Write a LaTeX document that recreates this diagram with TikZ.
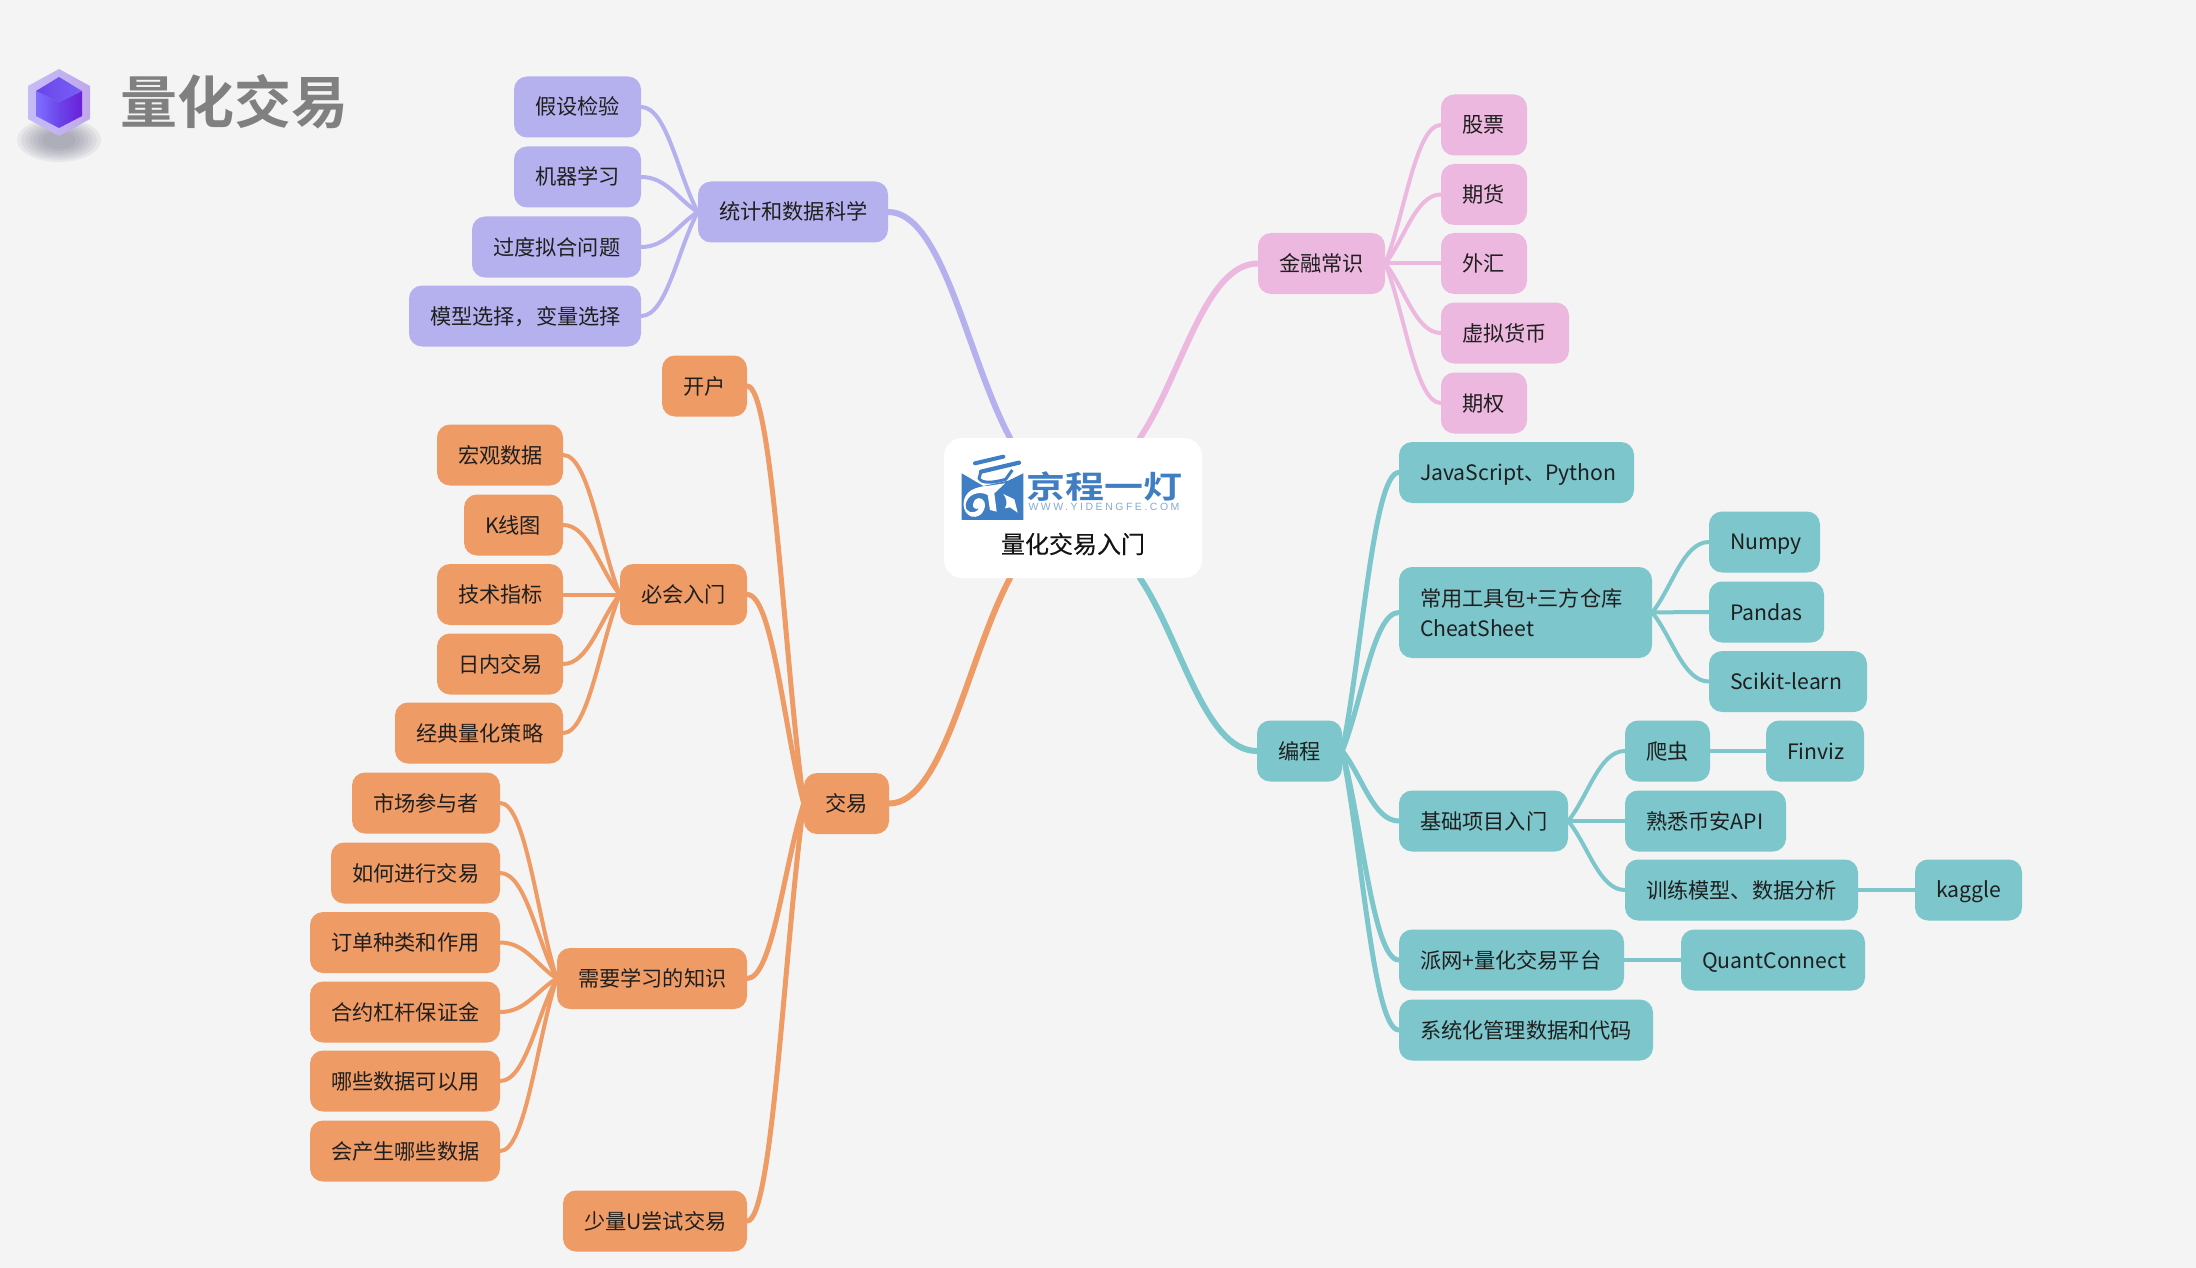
\documentclass[tikz,border=0pt]{standalone}
\usepackage{fontspec}
\setmainfont{Noto Sans CJK SC}
\newfontfamily\cjkb{Noto Sans CJK SC}[FakeBold=0.3]
\newfontfamily\cjkB{Noto Sans CJK SC Bold}
\newfontfamily\lgl{Liberation Sans}[LetterSpace=24]
\usetikzlibrary{backgrounds,calc}
\definecolor{bg}{HTML}{F4F4F4}
\definecolor{pur}{HTML}{B5B1EE}
\definecolor{pnk}{HTML}{EDB8DF}
\definecolor{tea}{HTML}{7CC6CC}
\definecolor{org}{HTML}{EE9B65}
\definecolor{lblue}{HTML}{3F7EC3}
\definecolor{hexa}{HTML}{C6BCF6}
\definecolor{hexb}{HTML}{BFA8EC}
\definecolor{cua}{HTML}{7E70FF}
\definecolor{cub}{HTML}{6B45EA}
\definecolor{cuc}{HTML}{6A1FD8}
\definecolor{shd}{HTML}{6A6A85}
\tikzset{x=1pt,y=-1pt,
  box/.style={rounded corners=13pt,minimum height=61pt,inner ysep=0pt,inner xsep=0pt,align=left,text=black!88,font=\fontsize{21.2}{30}\selectfont},
  bpur/.style={box,fill=pur},bpnk/.style={box,fill=pnk},btea/.style={box,fill=tea},borg/.style={box,fill=org},
  l1/.style={line width=6pt,line cap=round},
  l2/.style={line width=5pt,line cap=round},
  l3/.style={line width=4pt,line cap=round}}
\newcommand{\bx}[6]{\node[#5,minimum width={(#3-(#2))*1pt},text width={(#3-(#2)-42)*1pt}] (#1) at ({(#2+#3)/2},#4) {\rule[-4pt]{0pt}{24pt}#6};}
\newcommand{\lk}[3]{\draw[#1] let \p1=(#2),\p2=(#3) in (\p1) .. controls ({\x1+.35*(\x2-\x1)},{\y1+.35*(\y2-\y1)}) and ({\x1+.55*(\x2-\x1)},\y2) .. (\p2);}
\begin{document}
\begin{tikzpicture}
\useasboundingbox (0,0) rectangle (2196,1268);
\begin{scope}[on background layer]
\fill[bg] (0,0) rectangle (2196,1268);
\end{scope}
% centre
\node[fill=white,rounded corners=18pt,minimum width=258pt,minimum height=140pt,inner sep=0pt] (ctr) at (1073,508) {};
\node[font=\cjkb\fontsize{24}{28}\selectfont,text=black!92,inner sep=0pt] (ctrt) at (1073,544) {量化交易入门};
% logo
\begin{scope}[shift={(955,450)},x=0.3333pt,y=-0.3333pt]
\fill[lblue] (20,70) -- (85,108) -- (160,92) -- (205,70) -- (205,210) -- (20,210) -- cycle;
\draw[lblue,line width=4pt,line cap=round] (60,40) -- (145,20);
\draw[lblue,line width=4.2pt,line cap=round] (78,65) -- (192,38);
\draw[lblue,line width=3pt,line join=round] (78,65) -- (72,85) .. controls (80,100) and (110,100) .. (152,88) -- (172,60);
\fill[white] (95,108) -- (150,100) -- (118,130) -- (125,185) -- (105,180) -- (98,135) .. controls (70,120) and (35,135) .. (32,165) .. controls (30,190) and (60,195) .. (72,175) .. controls (60,180) and (50,172) .. (55,160) .. controls (60,140) and (80,140) .. (88,155) .. controls (95,175) and (80,205) .. (50,200) .. controls (20,190) and (15,140) .. (50,120) .. controls (65,112) and (85,108) .. cycle;
\fill[white] (145,132) -- (178,148) -- (188,188) -- (165,172) -- (150,175) .. controls (158,160) and (155,145) .. cycle;
\end{scope}
\node[font=\cjkB\fontsize{39}{40}\selectfont,text=lblue,inner sep=0pt,yscale=.8,transform shape] (logot) at (1104,487) {京程一灯};
\node[font=\lgl\fontsize{10.5}{12}\selectfont,text=lblue!65,inner sep=0pt] (logou) at (1104,506.5) {WWW.YIDENGFE.COM};
% title + cube
\foreach \r in {1,.9,.8,.7,.6,.5,.4}{\fill[shd,opacity=.09] (59,140) ellipse ({42*\r} and {22*\r});}
\shade[left color=hexa,right color=hexb] (59,69) -- (90,86) -- (90,119) -- (59,136) -- (28,119) -- (28,86) -- cycle;
\shade[left color=cua,right color=cub] (36,91) -- (59,102) -- (59,128) -- (36,116) -- cycle;
\shade[left color=cub,right color=cuc] (59,102) -- (82,91) -- (82,116) -- (59,128) -- cycle;
\shade[left color=cub,right color=cua!60!cub] (36,91) -- (59,77) -- (82,91) -- (59,102) -- cycle;
\node[font=\cjkB\fontsize{57}{60}\selectfont,text=black!50,anchor=west,inner sep=0pt] (title) at (120,102) {量化交易};
% purple
\bx{stat}{698}{888}{212}{bpur}{统计和数据科学}
\bx{p1}{514}{641}{107}{bpur}{假设检验}
\bx{p2}{514}{641}{177}{bpur}{机器学习}
\bx{p3}{472}{641}{247}{bpur}{过度拟合问题}
\bx{p4}{409}{641}{316}{bpur}{模型选择，变量选择}
% pink
\bx{fin}{1258}{1385}{263.5}{bpnk}{金融常识}
\bx{f1}{1441}{1527}{125}{bpnk}{股票}
\bx{f2}{1441}{1527}{194.5}{bpnk}{期货}
\bx{f3}{1441}{1527}{263.5}{bpnk}{外汇}
\bx{f4}{1441}{1569}{333}{bpnk}{虚拟货币}
\bx{f5}{1441}{1527}{403}{bpnk}{期权}
% orange
\bx{tr}{804}{889}{803.5}{borg}{交易}
\bx{o1}{662}{747}{386}{borg}{开户}
\bx{must}{620}{747}{594.5}{borg}{必会入门}
\bx{know}{557}{747}{978.5}{borg}{需要学习的知识}
\bx{try}{563}{747}{1221}{borg}{少量U尝试交易}
\bx{m1}{437}{563}{455}{borg}{宏观数据}
\bx{m2}{464}{563}{525}{borg}{K线图}
\bx{m3}{437}{563}{594.5}{borg}{技术指标}
\bx{m4}{437}{563}{664}{borg}{日内交易}
\bx{m5}{395}{563}{733}{borg}{经典量化策略}
\bx{k1}{352}{500}{803}{borg}{市场参与者}
\bx{k2}{331}{500}{873}{borg}{如何进行交易}
\bx{k3}{310}{500}{942.5}{borg}{订单种类和作用}
\bx{k4}{310}{500}{1012}{borg}{合约杠杆保证金}
\bx{k5}{310}{500}{1081}{borg}{哪些数据可以用}
\bx{k6}{310}{500}{1151}{borg}{会产生哪些数据}
% teal
\bx{code}{1257}{1342}{751}{btea}{编程}
\bx{js}{1399}{1634}{472.5}{btea}{JavaScript、Python}
\node[btea,minimum width=253pt,text width=211pt,minimum height=91pt] (tool) at (1525.5,612.5) {常用工具包+三方仓库\\CheatSheet};
\bx{np}{1709}{1820}{542}{btea}{Numpy}
\bx{pd}{1709}{1824}{612}{btea}{Pandas}
\bx{sk}{1709}{1867}{681.5}{btea}{Scikit-learn}
\bx{base}{1399}{1568}{821}{btea}{基础项目入门}
\bx{cr}{1625}{1710}{751}{btea}{爬虫}
\bx{fv}{1766}{1864}{751}{btea}{Finviz}
\bx{bn}{1625}{1786}{821}{btea}{熟悉币安API}
\bx{ml}{1625}{1858}{890}{btea}{训练模型、数据分析}
\bx{kg}{1915}{2022}{890}{btea}{kaggle}
\bx{pi}{1399}{1624}{960}{btea}{派网+量化交易平台}
\bx{qc}{1681}{1865}{960}{btea}{QuantConnect}
\bx{sys}{1399}{1653}{1030}{btea}{系统化管理数据和代码}
\begin{scope}[on background layer]
\lk{l1,pur}{[xshift=-63pt]ctr.north}{stat.east}
\lk{l1,pnk}{[xshift=67pt]ctr.north}{fin.west}
\lk{l1,org}{[xshift=-63pt]ctr.south}{tr.east}
\lk{l1,tea}{[xshift=67pt]ctr.south}{code.west}
\foreach \c in {p1,p2,p3,p4}{\lk{l3,pur}{stat.west}{\c.east}}
\foreach \c in {f1,f2,f3,f4,f5}{\lk{l3,pnk}{fin.east}{\c.west}}
\foreach \c in {o1,must,know,try}{\lk{l2,org}{tr.west}{\c.east}}
\foreach \c in {m1,m2,m3,m4,m5}{\lk{l3,org}{must.west}{\c.east}}
\foreach \c in {k1,k2,k3,k4,k5,k6}{\lk{l3,org}{know.west}{\c.east}}
\foreach \c in {js,tool,base,pi,sys}{\lk{l2,tea}{code.east}{\c.west}}
\foreach \c in {np,pd,sk}{\lk{l3,tea}{tool.east}{\c.west}}
\foreach \c in {cr,bn,ml}{\lk{l3,tea}{base.east}{\c.west}}
\lk{l3,tea}{cr.east}{fv.west}
\lk{l3,tea}{ml.east}{kg.west}
\lk{l3,tea}{pi.east}{qc.west}
\end{scope}
\end{tikzpicture}
\end{document}
